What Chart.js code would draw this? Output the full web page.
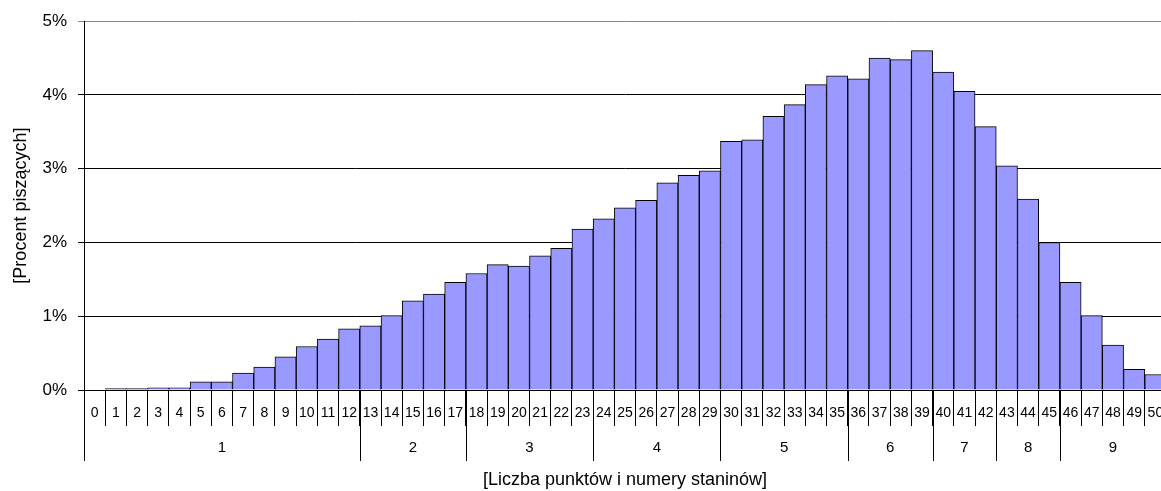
<!DOCTYPE html>
<html>
<head>
<meta charset="utf-8">
<script src="https://cdn.jsdelivr.net/npm/chart.js@4"></script>
<style>
  html, body { margin: 0; padding: 0; background: #fff; overflow: hidden; }
</style>
</head>
<body>
<canvas id="stanineChart" width="1166" height="491"></canvas>
<script>
// Liczba punktów (0-50)
const points = ['0', '1', '2', '3', '4', '5', '6', '7', '8', '9', '10', '11', '12', '13', '14', '15', '16',
    '17', '18', '19', '20', '21', '22', '23', '24', '25', '26', '27', '28', '29', '30', '31', '32', '33',
    '34', '35', '36', '37', '38', '39', '40', '41', '42', '43', '44', '45', '46', '47', '48', '49', '50'];

// Procent piszących
const percent = [0, 0.02, 0.02, 0.03, 0.03, 0.11, 0.11, 0.23, 0.31, 0.45, 0.59, 0.69, 0.83, 0.87, 1.01, 1.21, 1.30,
    1.46, 1.58, 1.70, 1.68, 1.82, 1.92, 2.18, 2.32, 2.47, 2.57, 2.81, 2.91, 2.97, 3.37, 3.39, 3.71, 3.87,
    4.14, 4.26, 4.22, 4.50, 4.48, 4.60, 4.31, 4.05, 3.57, 3.04, 2.59, 2.00, 1.46, 1.01, 0.61, 0.28, 0.21];

// Staniny: numer, pierwszy i ostatni wynik
const stanineLabels = ['1', '2', '3', '4', '5', '6', '7', '8', '9'];
const stanineStart = [0, 13, 18, 24, 30, 36, 40, 43, 46];
const stanineEnd = [12, 17, 23, 29, 35, 39, 42, 45, 50];

const FONT = '"Liberation Sans", Arial, sans-serif';
Chart.defaults.font.family = FONT;
Chart.defaults.color = '#000';

// second level of the x axis (stanine groups)
const stanineAxis = {
    id: 'stanineAxis',
    afterDraw(chart) {
        const x = chart.scales.x;
        const ctx = chart.ctx;
        const top = x.top;
        ctx.save();
        ctx.strokeStyle = '#000';
        ctx.lineWidth = 1;
        ctx.fillStyle = '#000';
        ctx.font = '15px ' + FONT;
        ctx.textAlign = 'center';
        ctx.textBaseline = 'middle';
        stanineStart.forEach((start, i) => {
            const left = x.getPixelForValue(start - 0.5);
            const right = x.getPixelForValue(stanineEnd[i] + 0.5);
            const lx = Math.round(left) + 0.5;
            ctx.beginPath();
            ctx.moveTo(lx, top);
            ctx.lineTo(lx, top + 71);
            ctx.stroke();
            ctx.fillText(stanineLabels[i], (left + right) / 2, top + 58);
        });
        ctx.restore();
    }
};

const ctx = document.getElementById('stanineChart').getContext('2d');
new Chart(ctx, {
    type: 'bar',
    data: {
        labels: points,
        datasets: [{
            data: percent,
            backgroundColor: '#9999FF',
            borderColor: '#000',
            borderWidth: 1,
            barPercentage: 1,
            categoryPercentage: 1
        }]
    },
    options: {
        responsive: false,
        animation: false,
        layout: { padding: { top: 21, left: 0, right: 0, bottom: 0 } },
        plugins: {
            legend: { display: false },
            tooltip: { enabled: false }
        },
        scales: {
            x: {
                offset: true,
                grid: {
                    offset: true,
                    drawOnChartArea: false,
                    drawTicks: true,
                    tickLength: 36,
                    color: '#000',
                    lineWidth: 1
                },
                border: { color: '#000', width: 1 },
                ticks: {
                    autoSkip: false,
                    maxRotation: 0,
                    padding: -21,
                    font: { size: 14 }
                },
                title: {
                    display: true,
                    text: '[Liczba punktów i numery staninów]',
                    font: { size: 18 },
                    padding: { top: 0, bottom: 0 }
                },
                afterFit: (scale) => { scale.height = 101; }
            },
            y: {
                min: 0,
                max: 5,
                grid: {
                    color: (c) => (c.tick && c.tick.value === 5) ? '#888' : '#000',
                    tickLength: 6,
                    lineWidth: 1
                },
                border: { color: '#000', width: 1 },
                ticks: {
                    stepSize: 1,
                    padding: 11,
                    font: { size: 17 },
                    callback: (v) => v + '%'
                },
                title: {
                    display: true,
                    text: '[Procent piszących]',
                    font: { size: 18 },
                    padding: { top: 10, bottom: 0 }
                },
                afterFit: (scale) => { scale.width = 84; }
            }
        }
    },
    plugins: [stanineAxis]
});
</script>
</body>
</html>
